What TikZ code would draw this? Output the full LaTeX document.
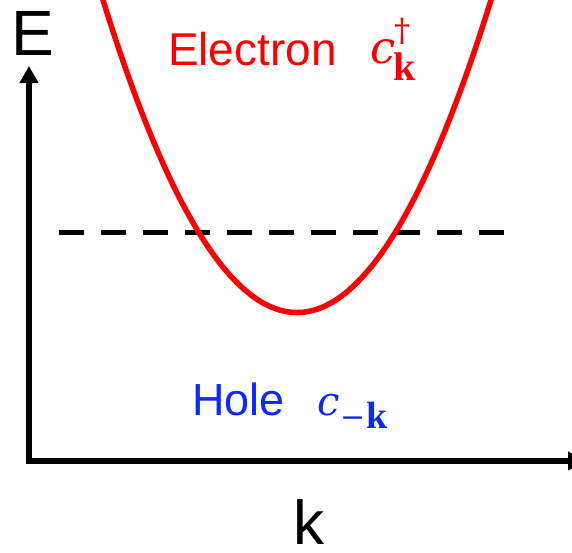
\documentclass[tikz,border=0pt]{standalone}
\usepackage{graphicx}
\usepackage[no-math]{fontspec}
\setmainfont{Liberation Sans}
\newfontfamily\dejaserif{DejaVu Serif}
\newfontfamily\timesserif{Liberation Serif}
\usetikzlibrary{arrows.meta}
\definecolor{elred}{RGB}{255,0,0}
\definecolor{holeblue}{RGB}{10,40,255}
\begin{document}
\begin{tikzpicture}[x=1pt,y=-1pt,
  lbl/.style={inner sep=0pt, outer sep=0pt, anchor=base west},
  axisline/.style={line width=5.5pt, line join=miter,
    {Triangle[width=18pt,length=17pt]}-{Triangle[width=18pt,length=17pt]}},
  band/.style={line width=5.5pt, elred},
  fermi/.style={line width=5.5pt, dash pattern=on 25pt off 17pt}]
\useasboundingbox (0,0) rectangle (572,552);
\clip (0,0) rectangle (572,552);
% axes
\coordinate (O) at (29,461);
\coordinate (ytip) at (29,66);
\coordinate (xtip) at (585,461);
\draw[axisline] (ytip) -- (O) -- (xtip);
% Fermi level
\coordinate (fl) at (59,232.5);
\coordinate (fr) at (504,232.5);
\draw[fermi] (fl) -- (fr);
% band parabola
\coordinate (bl) at (98.4,-15);
\coordinate (c1) at (230.8,421.7);
\coordinate (c2) at (363.2,421.7);
\coordinate (br) at (495.6,-15);
\draw[band] (bl) .. controls (c1) and (c2) .. (br);
% axis labels
\node[lbl, font=\fontsize{64}{64}\selectfont] (Elab) at (12,55) {E};
\node[lbl, font=\fontsize{62}{62}\selectfont] (klab) at (293,544) {k};
% electron label
\node[lbl, elred, font=\fontsize{46}{46}\selectfont] (el) at (168,65) {Electron};
\node[lbl, elred, font=\dejaserif\itshape\fontsize{45}{45}\selectfont] (elc) at (370,63) {c};
\node[lbl, elred, font=\timesserif\bfseries\fontsize{40}{40}\selectfont] (elk) at (393,80) {k};
\node[inner sep=0pt, elred, font=\dejaserif\fontsize{32}{32}\selectfont] (eld) at (402,31) {†};
% hole label
\node[lbl, holeblue, font=\fontsize{45}{45}\selectfont] (ho) at (192,415) {Hole};
\node[lbl, holeblue, font=\dejaserif\itshape\fontsize{40}{40}\selectfont] (hoc) at (317,415) {c};
\node[lbl, holeblue, font=\dejaserif\fontsize{30}{30}\selectfont] (hom) at (340,427) {−};
\node[lbl, holeblue, font=\timesserif\bfseries\fontsize{38}{38}\selectfont] (hok) at (366,428) {k};
\end{tikzpicture}
\end{document}
